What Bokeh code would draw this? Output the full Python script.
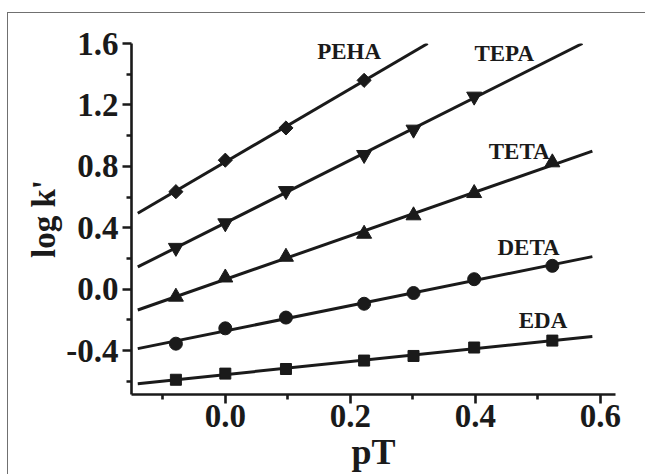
import numpy as np
from bokeh.plotting import figure
from bokeh.models import FixedTicker, Label, PrintfTickFormatter
from bokeh.embed import file_html
from bokeh.resources import INLINE

# ---- data ----
pT = [-0.079, 0.0, 0.097, 0.222, 0.301, 0.398, 0.523]
EDA = [-0.59, -0.55, -0.52, -0.465, -0.435, -0.38, -0.335]
DETA = [-0.355, -0.255, -0.185, -0.095, -0.025, 0.065, 0.152]
TETA = [-0.05, 0.075, 0.21, 0.36, 0.48, 0.625, 0.825]
TEPA = [0.27, 0.43, 0.64, 0.875, 1.04, 1.255]
PEHA = [0.635, 0.84, 1.05, 1.36]

series_names = ["EDA", "DETA", "TETA", "TEPA", "PEHA"]
series_values = [EDA, DETA, TETA, TEPA, PEHA]
series_markers = ["square", "circle", "triangle", "inverted_triangle", "square"]

label_x = [0.508, 0.485, 0.47, 0.446, 0.198]
label_y = [-0.204, 0.270, 0.898, 1.532, 1.550]

x_ticks = [0.0, 0.2, 0.4, 0.6]
x_minor = [-0.1, 0.1, 0.3, 0.5]
y_ticks = [-0.4, 0.0, 0.4, 0.8, 1.2, 1.6]
y_minor = [-0.6, -0.2, 0.2, 0.6, 1.0, 1.4]

X_MIN, X_MAX = -0.15, 0.624
Y_MIN, Y_MAX = -0.686, 1.6
FIT_X0, FIT_X1 = -0.14, 0.587

INK = "#1a1a1a"
FONT = "Liberation Serif"

p = figure(width=645, height=474, x_range=(X_MIN, X_MAX), y_range=(Y_MIN, Y_MAX),
           output_backend="svg", toolbar_location=None,
           min_border_left=131, min_border_right=30, min_border_top=43, min_border_bottom=79)
p.outline_line_color = None
p.grid.visible = False
p.background_fill_color = "white"
p.border_fill_color = None
# thin grey frame lines around the picture (top and left), drawn as CSS background
p.styles = {
    "background-color": "white",
    "background-image": "linear-gradient(#707070, #707070), linear-gradient(#707070, #707070)",
    "background-size": "100% 1px, 1px 100%",
    "background-position": "7px 12px, 7px 12px",
    "background-repeat": "no-repeat",
}

for ax, ticks, minor in ((p.xaxis, x_ticks, x_minor), (p.yaxis, y_ticks, y_minor)):
    ax.ticker = FixedTicker(ticks=ticks, minor_ticks=minor)
    ax.formatter = PrintfTickFormatter(format="%.1f")
    ax.axis_line_width = 2.6
    ax.axis_line_color = INK
    ax.major_tick_line_width = 2.6
    ax.minor_tick_line_width = 2.6
    ax.major_tick_line_color = INK
    ax.minor_tick_line_color = INK
    ax.major_tick_out = 9
    ax.major_tick_in = 0
    ax.minor_tick_out = 5
    ax.minor_tick_in = 0
    ax.major_label_text_font = FONT
    ax.major_label_text_font_style = "bold"
    ax.major_label_text_font_size = "33px"
    ax.major_label_text_color = INK
    ax.axis_label_text_font = FONT
    ax.axis_label_text_font_style = "bold"
    ax.axis_label_text_color = INK
p.xaxis.major_label_standoff = 1
p.yaxis.major_label_standoff = 4

p.xaxis.axis_label = "pT"
p.xaxis.axis_label_text_font_size = "36px"
p.xaxis.axis_label_standoff = 2
p.yaxis.axis_label = "log k'"
p.yaxis.axis_label_text_font_size = "33px"
p.yaxis.axis_label_standoff = 1

for name, vals, mk in zip(series_names, series_values, series_markers):
    xs = np.array(pT[:len(vals)])
    ys = np.array(vals)
    m, b = np.polyfit(xs, ys, 1)
    x_end = min(FIT_X1, (Y_MAX - b) / m)
    p.line([FIT_X0, x_end], [m * FIT_X0 + b, m * x_end + b], line_width=3, color=INK)
    if name == "PEHA":
        p.scatter(xs, ys, marker="square", size=10, angle=np.pi / 4, color=INK)
    elif mk == "square":
        p.scatter(xs, ys, marker="square", size=11, color=INK)
    elif mk == "circle":
        p.scatter(xs, ys, marker="circle", size=13, color=INK)
    else:
        p.scatter(xs, ys, marker=mk, size=15, color=INK)

for name, lx, ly in zip(series_names, label_x, label_y):
    p.add_layout(Label(x=lx, y=ly, text=name, text_align="center", text_baseline="alphabetic",
                       text_font=FONT, text_font_style="bold", text_font_size="23px",
                       text_color=INK))

open("out.html", "w").write(file_html(p, INLINE))
